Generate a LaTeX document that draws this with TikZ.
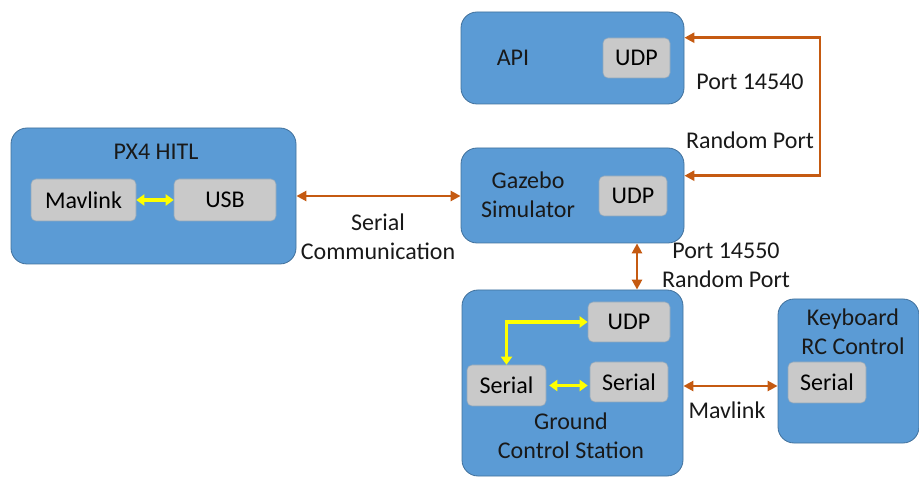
\documentclass[tikz,border=0pt]{standalone}
\usepackage{fontspec}
\setmainfont{Carlito}
\usetikzlibrary{arrows.meta}
\definecolor{boxblue}{HTML}{5B9BD5}
\definecolor{boxline}{HTML}{41719C}
\definecolor{innerfill}{HTML}{C9C9C9}
\definecolor{innerline}{HTML}{8FA7BD}
\definecolor{orng}{HTML}{C55A11}
\definecolor{yel}{HTML}{FFFF00}
\begin{document}
\begin{tikzpicture}[x=1pt,y=-1pt,
  font=\fontsize{24}{29}\selectfont,
  big/.style={draw=boxline, fill=boxblue, rounded corners=16pt, line width=0.8pt, inner sep=0pt},
  small/.style={draw=innerline, fill=innerfill, rounded corners=5pt, line width=0.6pt, inner sep=0pt},
  lbl/.style={align=center, inner sep=0pt, text=black!90},
  oarr/.style={draw=orng, line width=2.6pt, {Triangle[length=10pt,width=10pt]}-{Triangle[length=10pt,width=10pt]}},
  yarr/.style={draw=yel, line width=3.2pt, {Triangle[length=8pt,width=11pt]}-{Triangle[length=8pt,width=11pt]}}]
\useasboundingbox (0,0) rectangle (919,478);

% big boxes
\node[big, minimum width=285pt, minimum height=136pt] (px4) at (153.5,196) {};
\node[big, minimum width=223pt, minimum height=92pt] (api) at (572.5,58) {};
\node[big, minimum width=223pt, minimum height=95pt] (gaz) at (572.5,195.5) {};
\node[big, minimum width=221pt, minimum height=186pt] (gcs) at (572.5,383) {};
\node[big, minimum width=141pt, minimum height=144pt] (kb) at (848.5,371) {};

% titles
\node[lbl] (px4t) at (156,152) {PX4 HITL};
\node[lbl] (apit) at (513,58) {API};
\node[lbl] (gazt) at (528,195) {Gazebo\\Simulator};
\node[lbl] (gcst) at (571,436) {Ground\\Control Station};
\node[lbl] (kbt) at (853,332) {Keyboard\\RC Control};

% inner boxes
\node[small, minimum width=105pt, minimum height=42pt] (mav) at (83.5,200) {Mavlink};
\node[small, minimum width=102pt, minimum height=42pt] (usb) at (225,200) {USB};
\node[small, minimum width=67pt, minimum height=40pt] (apiudp) at (636.5,58) {UDP};
\node[small, minimum width=68pt, minimum height=40pt] (gazudp) at (633,196) {UDP};
\node[small, minimum width=82pt, minimum height=40pt] (gcsudp) at (629,322) {UDP};
\node[small, minimum width=79pt, minimum height=41pt] (sl) at (506.5,385.5) {Serial};
\node[small, minimum width=78pt, minimum height=40pt] (sr) at (629,382) {Serial};
\node[small, minimum width=78pt, minimum height=41pt] (ks) at (827,382.5) {Serial};

% yellow connectors
\draw[yarr] (mav.east) -- (usb.west);
\draw[yarr] (sl.north) |- (gcsudp.west);
\draw[yarr] ([xshift=3pt]sl.east) -- ([xshift=-2pt]sl.east -| sr.west);

% orange connectors
\coordinate (rc) at (820,0);
\coordinate (vx) at (637,0);
\coordinate (my) at (0,386);
\draw[oarr] (px4.east) -- (px4.east -| gaz.west);
\draw[oarr] (apiudp.north -| api.east) -- (apiudp.north -| rc) -- (gazudp.north -| rc) -- (gazudp.north -| gaz.east);
\draw[oarr] (gaz.south -| vx) -- (gcs.north -| vx);
\draw[oarr] (my -| gcs.east) -- (my -| kb.west);

% labels
\node[lbl] (l1) at (378,237) {Serial\\Communication};
\node[lbl] (l2) at (750,82) {Port 14540};
\node[lbl] (l3) at (750,140) {Random Port};
\node[lbl] (l4) at (726,265) {Port 14550\\Random Port};
\node[lbl] (l5) at (727,410) {Mavlink};
\end{tikzpicture}
\end{document}
